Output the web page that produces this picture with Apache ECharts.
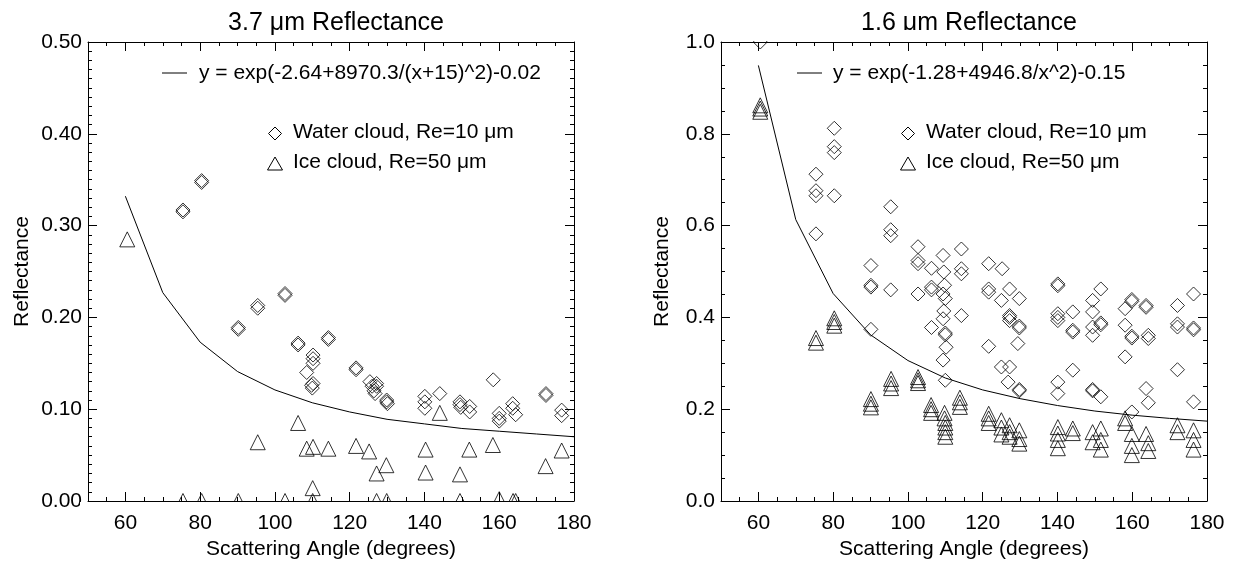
<!DOCTYPE html>
<html>
<head>
<meta charset="utf-8">
<script src="https://cdn.jsdelivr.net/npm/echarts@6/dist/echarts.min.js"></script>
<style>
  html, body { margin: 0; padding: 0; background: #fff; }
  #chart { width: 1234px; height: 568px; }
</style>
</head>
<body>
<div id="chart"></div>
<script>
// tick labels
const xTicks = [60, 80, 100, 120, 140, 160, 180];
const y37Ticks = [0.0, 0.1, 0.2, 0.3, 0.4, 0.5];
const y16Ticks = [0.0, 0.2, 0.4, 0.6, 0.8, 1.0];

// fitted curves at 10 degree steps
const fitAngles = [60, 70, 80, 90, 100, 110, 120, 130, 140, 150, 160, 170, 180];
const fit37 = [0.332, 0.227, 0.173, 0.141, 0.121, 0.107, 0.097, 0.089, 0.084, 0.079, 0.076, 0.073, 0.070];
const fit16 = [0.949, 0.613, 0.452, 0.362, 0.306, 0.268, 0.242, 0.223, 0.208, 0.196, 0.187, 0.180, 0.174];

// 3.7 um reflectance: [scattering angle, reflectance]
const water37 = [
  [75.4, 0.317], [75.4, 0.315], [80.4, 0.347], [80.4, 0.349],
  [90.2, 0.187], [90.2, 0.189], [95.4, 0.210], [95.4, 0.213],
  [102.7, 0.224], [102.7, 0.226], [106.2, 0.170], [106.2, 0.172],
  [108.5, 0.140], [109.8, 0.126], [110.0, 0.123], [110.2, 0.128],
  [110.2, 0.150], [110.2, 0.155], [110.2, 0.159], [114.3, 0.178], [114.3, 0.176],
  [121.7, 0.145], [121.7, 0.143], [125.4, 0.130], [126.0, 0.125], [126.5, 0.120],
  [127.2, 0.125], [127.2, 0.128], [126.8, 0.117],
  [129.9, 0.110], [129.9, 0.108], [130.1, 0.106],
  [140.1, 0.114], [140.1, 0.108], [140.1, 0.101], [144.1, 0.117],
  [149.5, 0.108], [149.5, 0.105], [149.7, 0.102], [152.1, 0.103], [152.1, 0.097],
  [158.4, 0.132], [160.0, 0.0955], [160.0, 0.090], [160.0, 0.087],
  [163.6, 0.106], [163.6, 0.101], [164.4, 0.094],
  [172.5, 0.117], [172.5, 0.115], [176.7, 0.099], [176.7, 0.093]
];
const ice37 = [
  [60.5, 0.285], [75.4, 0.0], [80.4, 0.0], [90.2, 0.0], [102.7, 0.0],
  [95.4, 0.064], [106.2, 0.085], [108.5, 0.057], [110.2, 0.059],
  [110.1, 0.014], [110.1, 0.0], [114.3, 0.057], [121.7, 0.060], [125.2, 0.054],
  [127.2, 0.030], [127.2, 0.0], [129.8, 0.039], [129.9, 0.0],
  [140.3, 0.056], [140.3, 0.031], [144.1, 0.096], [149.5, 0.029], [149.5, 0.0],
  [152.0, 0.056], [158.3, 0.061], [160.0, 0.002], [163.7, 0.0], [164.4, 0.0],
  [172.4, 0.038], [176.7, 0.055]
];

// 1.6 um reflectance: [scattering angle, reflectance]
const water16 = [
  [60.5, 1.0],
  [75.4, 0.712], [75.4, 0.676], [75.4, 0.665], [75.4, 0.582],
  [80.3, 0.812], [80.3, 0.772], [80.3, 0.759], [80.3, 0.665],
  [90.1, 0.513], [90.1, 0.470], [90.1, 0.466], [90.1, 0.374],
  [95.4, 0.641], [95.4, 0.591], [95.4, 0.578], [95.4, 0.460],
  [102.7, 0.554], [102.7, 0.524], [102.7, 0.517], [102.7, 0.451],
  [106.3, 0.507], [106.3, 0.466], [106.3, 0.460], [106.3, 0.378],
  [109.4, 0.535], [109.6, 0.499], [109.8, 0.470], [109.4, 0.451], [110.0, 0.441],
  [109.6, 0.414], [109.4, 0.397], [110.0, 0.366], [110.0, 0.362], [110.2, 0.335],
  [109.4, 0.307], [110.0, 0.263],
  [114.3, 0.549], [114.3, 0.506], [114.3, 0.495], [114.3, 0.404],
  [121.6, 0.517], [121.6, 0.462], [121.6, 0.455], [121.6, 0.337],
  [125.2, 0.506], [125.0, 0.437], [125.0, 0.292],
  [127.2, 0.462], [127.2, 0.404], [127.2, 0.400], [127.2, 0.393], [127.2, 0.292], [126.8, 0.259],
  [129.8, 0.441], [129.8, 0.381], [129.8, 0.377], [129.4, 0.343], [129.8, 0.243], [129.8, 0.240],
  [140.1, 0.473], [140.1, 0.469], [140.1, 0.408], [140.1, 0.400], [140.1, 0.393], [140.1, 0.259], [140.1, 0.234],
  [144.1, 0.412], [144.1, 0.372], [144.1, 0.368], [144.1, 0.285],
  [149.4, 0.437], [149.4, 0.412], [149.4, 0.379], [149.4, 0.361], [149.4, 0.243], [149.4, 0.240],
  [151.6, 0.462], [151.6, 0.388], [151.6, 0.384], [151.6, 0.227],
  [158.1, 0.419], [158.1, 0.383], [158.1, 0.314],
  [159.9, 0.439], [159.9, 0.435], [159.9, 0.359], [159.9, 0.355], [159.9, 0.194],
  [163.7, 0.426], [163.7, 0.422], [164.3, 0.361], [164.3, 0.354], [163.7, 0.245], [164.3, 0.214],
  [172.1, 0.426], [172.1, 0.386], [172.1, 0.379], [172.1, 0.286],
  [176.4, 0.451], [176.4, 0.377], [176.4, 0.373], [176.4, 0.216]
];
const ice16 = [
  [60.5, 0.862], [60.5, 0.855], [60.5, 0.848],
  [75.4, 0.355], [75.4, 0.345],
  [80.3, 0.398], [80.3, 0.390], [80.3, 0.382],
  [90.1, 0.222], [90.1, 0.212], [90.1, 0.204],
  [95.5, 0.266], [95.5, 0.256], [95.5, 0.246],
  [102.7, 0.270], [102.7, 0.263], [102.7, 0.257],
  [106.2, 0.209], [106.2, 0.200], [106.2, 0.192],
  [109.8, 0.192], [109.8, 0.180], [110.0, 0.170], [110.0, 0.160], [110.0, 0.150], [110.0, 0.140],
  [113.9, 0.225], [113.9, 0.215], [113.9, 0.205],
  [121.6, 0.190], [121.6, 0.180], [121.6, 0.170],
  [125.0, 0.176], [125.0, 0.160], [125.0, 0.145],
  [127.2, 0.165], [127.2, 0.150], [127.2, 0.140],
  [129.8, 0.154], [129.8, 0.135], [129.8, 0.125],
  [140.1, 0.161], [140.1, 0.147], [140.1, 0.133], [140.1, 0.115],
  [144.1, 0.158], [144.1, 0.148],
  [149.4, 0.150], [149.4, 0.128],
  [151.6, 0.158], [151.6, 0.133], [151.6, 0.112],
  [158.1, 0.180], [158.1, 0.170],
  [159.9, 0.146], [159.9, 0.120], [159.9, 0.100],
  [163.7, 0.146], [164.3, 0.126], [164.3, 0.109],
  [172.1, 0.165], [172.1, 0.150],
  [176.4, 0.154], [176.4, 0.133], [176.4, 0.112]
];

const FONT = 'Liberation Sans, Arial, sans-serif';

// minor tick positions
function steps(from, to, step, skip) {
  const out = [];
  for (let v = from; v <= to + 1e-9; v += step) {
    const r = Math.round(v * 1000) / 1000;
    if (!skip.some(s => Math.abs(s - r) < 1e-9)) out.push(r);
  }
  return out;
}
const xMinor = steps(50, 180, 5, xTicks);
const y37Minor = steps(0, 0.5, 0.01, y37Ticks);
const y16Minor = steps(0, 1.0, 0.05, y16Ticks);

function xAxis(gi, pos, ticks, len, withLabel, withLine) {
  return {
    type: 'value', gridIndex: gi, position: pos, min: 50, max: 180,
    axisLine: { show: withLine, onZero: false, lineStyle: { color: '#000', width: 1 } },
    axisTick: { show: true, inside: true, length: len, customValues: ticks, lineStyle: { color: '#000', width: 1 } },
    axisLabel: { show: withLabel, customValues: ticks, color: '#000', fontSize: 21, fontFamily: FONT, margin: 12 },
    splitLine: { show: false },
    name: withLabel ? 'Scattering Angle (degrees)' : '',
    nameLocation: 'middle', nameGap: 37,
    nameTextStyle: { color: '#000', fontSize: 21, fontFamily: FONT }
  };
}
function yAxis(gi, pos, max, ticks, len, withLabel, withLine, digits, gap) {
  return {
    type: 'value', gridIndex: gi, position: pos, min: 0, max: max,
    axisLine: { show: withLine, onZero: false, lineStyle: { color: '#000', width: 1 } },
    axisTick: { show: true, inside: true, length: len, customValues: ticks, lineStyle: { color: '#000', width: 1 } },
    axisLabel: { show: withLabel, customValues: ticks, color: '#000', fontSize: 21, fontFamily: FONT, margin: 6,
                 formatter: v => v.toFixed(digits) },
    splitLine: { show: false },
    name: withLabel ? 'Reflectance' : '',
    nameLocation: 'middle', nameGap: gap,
    nameTextStyle: { color: '#000', fontSize: 21, fontFamily: FONT }
  };
}

const xAxes = [];
const yAxes = [];
[0, 1].forEach(gi => {
  xAxes.push(xAxis(gi, 'bottom', xTicks, 9, true, true));
  xAxes.push(xAxis(gi, 'bottom', xMinor, 4, false, false));
  xAxes.push(xAxis(gi, 'top', xTicks, 9, false, true));
  xAxes.push(xAxis(gi, 'top', xMinor, 4, false, false));
});
yAxes.push(yAxis(0, 'left', 0.5, y37Ticks, 9, true, true, 2, 55));
yAxes.push(yAxis(0, 'left', 0.5, y37Minor, 4, false, false, 2, 0));
yAxes.push(yAxis(0, 'right', 0.5, y37Ticks, 9, false, true, 2, 0));
yAxes.push(yAxis(0, 'right', 0.5, y37Minor, 4, false, false, 2, 0));
yAxes.push(yAxis(1, 'left', 1.0, y16Ticks, 9, true, true, 1, 48));
yAxes.push(yAxis(1, 'left', 1.0, y16Minor, 4, false, false, 1, 0));
yAxes.push(yAxis(1, 'right', 1.0, y16Ticks, 9, false, true, 1, 0));
yAxes.push(yAxis(1, 'right', 1.0, y16Minor, 4, false, false, 1, 0));

const hollow = { color: 'rgba(0,0,0,0)', borderColor: '#000', borderWidth: 1 };
function scatter(name, axis, symbol, size, data) {
  return { type: 'scatter', name, xAxisIndex: axis, yAxisIndex: axis, symbol, symbolSize: size,
           itemStyle: hollow, data, silent: true };
}
function fitLine(axis, values) {
  return { type: 'line', xAxisIndex: axis, yAxisIndex: axis, symbol: 'none', silent: true,
           lineStyle: { color: '#000', width: 1 },
           data: fitAngles.map((a, i) => [a, values[i]]) };
}

// legend drawn as graphic
function legend(lx, tx, sx, formula) {
  const txt = (x, y, t) => ({ type: 'text', x, y, style: { text: t, font: '21px ' + FONT, fill: '#000',
    textVerticalAlign: 'middle', verticalAlign: 'middle' } });
  return [
    { type: 'line', shape: { x1: lx, y1: 73, x2: lx + 25, y2: 73 }, style: { stroke: '#000', lineWidth: 1 } },
    txt(tx, 73, formula),
    { type: 'polygon', shape: { points: [[sx, 127], [sx + 6.5, 133.5], [sx, 140], [sx - 6.5, 133.5]] },
      style: { fill: 'none', stroke: '#000', lineWidth: 1 } },
    txt(sx + 18, 132, 'Water cloud, Re=10 μm'),
    { type: 'polygon', shape: { points: [[sx, 157], [sx + 7.5, 170], [sx - 7.5, 170]] },
      style: { fill: 'none', stroke: '#000', lineWidth: 1 } },
    txt(sx + 18, 162, 'Ice cloud, Re=50 μm')
  ];
}

// white strips just outside the plot boxes, so marks on the edge are cut like the original
const masks = [
  { type: 'rect', z: 100, shape: { x: 80, y: 502, width: 500, height: 12 }, style: { fill: '#fff' } },
  { type: 'rect', z: 100, shape: { x: 715, y: 30, width: 500, height: 11 }, style: { fill: '#fff' } }
];

const chart = echarts.init(document.getElementById('chart'));
chart.setOption({
  animation: false,
  backgroundColor: '#fff',
  title: [
    { text: '3.7 μm Reflectance', left: 331, top: 6, textAlign: 'center',
      textStyle: { fontSize: 25, fontWeight: 'normal', color: '#000', fontFamily: FONT } },
    { text: '1.6 μm Reflectance', left: 964, top: 6, textAlign: 'center',
      textStyle: { fontSize: 25, fontWeight: 'normal', color: '#000', fontFamily: FONT } }
  ],
  grid: [
    { left: 88, top: 42, width: 486, height: 459 },
    { left: 721, top: 42, width: 486, height: 459 }
  ],
  xAxis: xAxes,
  yAxis: yAxes,
  graphic: masks
    .concat(legend(162, 199, 275, 'y = exp(-2.64+8970.3/(x+15)^2)-0.02'))
    .concat(legend(797, 833, 908, 'y = exp(-1.28+4946.8/x^2)-0.15')),
  series: [
    fitLine(0, fit37),
    scatter('Water cloud, Re=10 μm', 0, 'diamond', 14, water37),
    scatter('Ice cloud, Re=50 μm', 0, 'triangle', 15, ice37),
    fitLine(4, fit16),
    scatter('Water cloud, Re=10 μm', 4, 'diamond', 14, water16),
    scatter('Ice cloud, Re=50 μm', 4, 'triangle', 15, ice16)
  ]
});
</script>
</body>
</html>
